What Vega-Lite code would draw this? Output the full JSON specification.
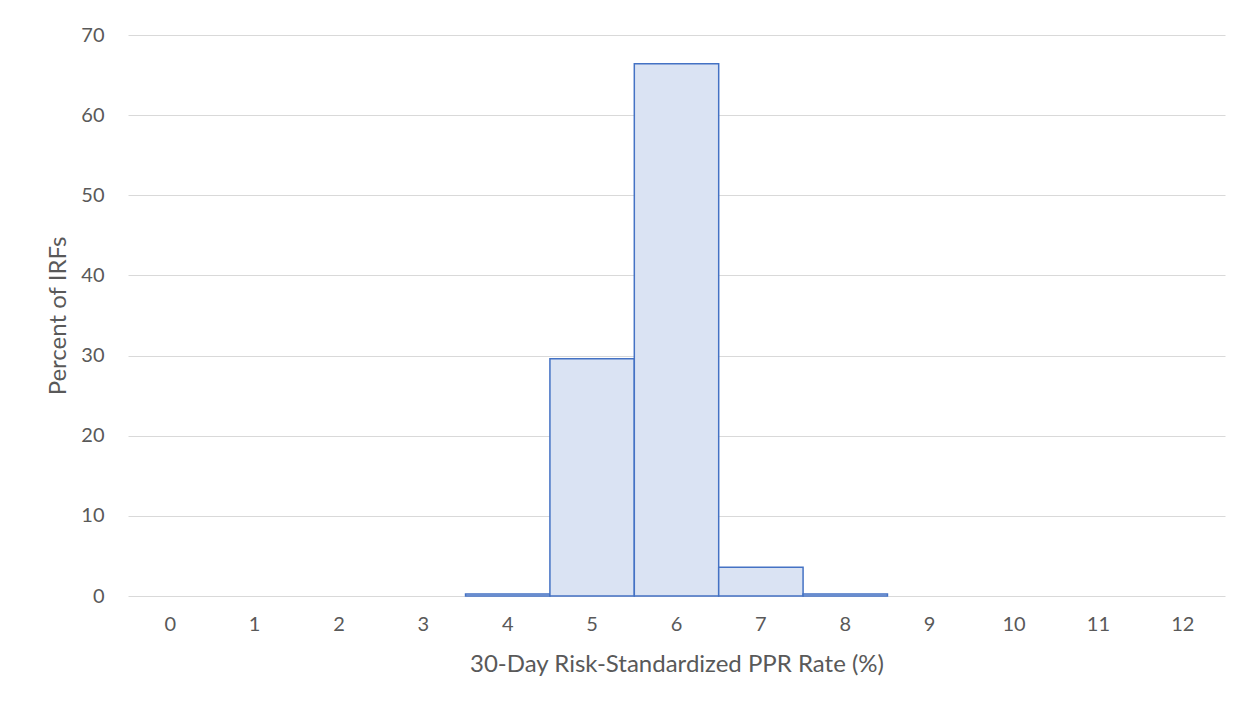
{
  "$schema": "https://vega.github.io/schema/vega-lite/v6.json",
  "autosize": "none",
  "width": 1097,
  "height": 561,
  "padding": {"left": 128, "top": 35, "right": 25, "bottom": 115},
  "background": "white",
  "config": {
    "view": {"stroke": null},
    "font": "Lato"
  },
  "data": {
    "values": [
      {"rate": 0, "pct": 0},
      {"rate": 1, "pct": 0},
      {"rate": 2, "pct": 0},
      {"rate": 3, "pct": 0},
      {"rate": 4, "pct": 0.25},
      {"rate": 5, "pct": 29.6},
      {"rate": 6, "pct": 66.4},
      {"rate": 7, "pct": 3.6},
      {"rate": 8, "pct": 0.25},
      {"rate": 9, "pct": 0},
      {"rate": 10, "pct": 0},
      {"rate": 11, "pct": 0},
      {"rate": 12, "pct": 0}
    ]
  },
  "mark": {"type": "bar", "fill": "#dae3f3", "strokeWidth": 1.5},
  "encoding": {
    "x": {
      "field": "rate",
      "type": "ordinal",
      "scale": {"paddingInner": 0, "paddingOuter": 0},
      "axis": {
        "title": "30-Day Risk-Standardized PPR Rate (%)",
        "labelAngle": 0,
        "labelFontSize": 20,
        "labelColor": "#595959",
        "labelPadding": 18,
        "titleFontSize": 24,
        "titleFontWeight": "normal",
        "titleColor": "#595959",
        "titlePadding": 18,
        "domain": false,
        "ticks": false,
        "grid": false
      }
    },
    "y": {
      "field": "pct",
      "type": "quantitative",
      "scale": {"domain": [0, 70]},
      "axis": {
        "title": "Percent of IRFs",
        "values": [0, 10, 20, 30, 40, 50, 60, 70],
        "labelFontSize": 20,
        "labelColor": "#595959",
        "labelPadding": 24,
        "titleFontSize": 24,
        "titleFontWeight": "normal",
        "titleColor": "#595959",
        "titlePadding": 10,
        "domain": false,
        "ticks": false,
        "grid": true,
        "gridColor": "#d9d9d9",
        "gridWidth": 1
      }
    },
    "stroke": {
      "condition": {"test": "datum.pct > 0", "value": "#4472c4"},
      "value": "transparent"
    }
  }
}
